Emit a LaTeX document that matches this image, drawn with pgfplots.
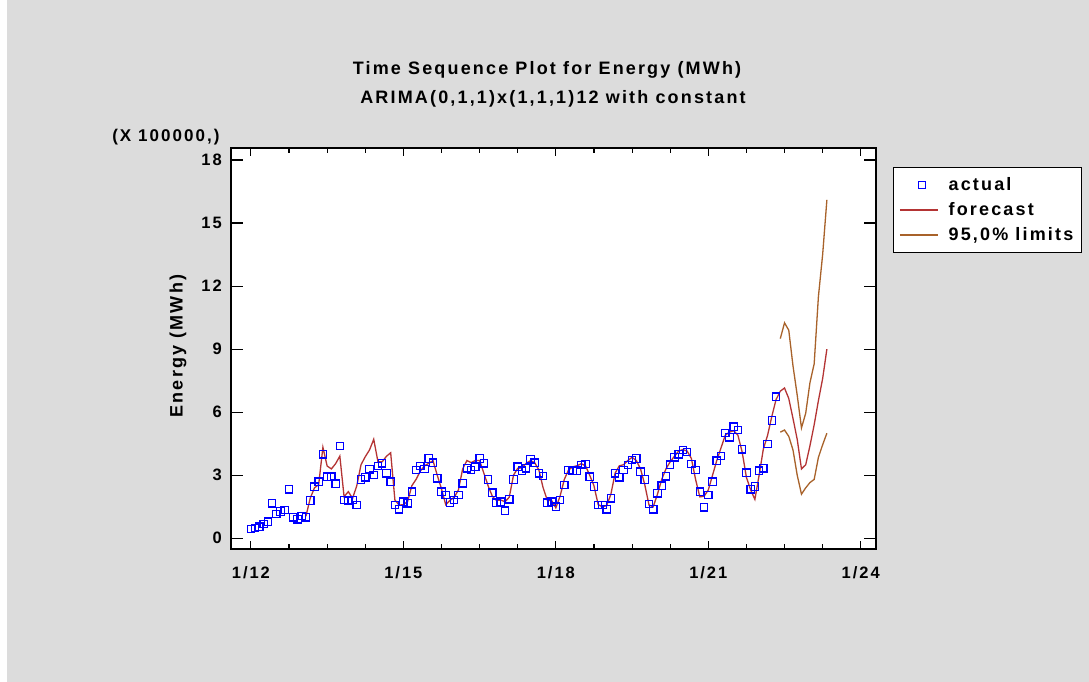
\documentclass[border=0pt]{standalone}
\usepackage{pgfplots}
\pgfplotsset{compat=1.18}
\usepackage{pgfplotstable}
\usepackage{fontspec}
\setmainfont{Liberation Sans}[LetterSpace=12]
\definecolor{bggray}{RGB}{220,220,220}
\definecolor{actblue}{RGB}{0,0,255}
\definecolor{fcred}{RGB}{180,52,52}
\definecolor{limbrown}{RGB}{168,98,42}

\pgfplotstableread{
m v
0 0.44
1 0.48
2 0.55
3 0.68
4 0.79
5 1.66
6 1.16
7 1.27
8 1.35
9 2.33
10 1.00
11 0.90
12 1.06
13 1.00
14 1.80
15 2.45
16 2.69
17 4.00
18 2.93
19 2.93
20 2.60
21 4.39
22 1.82
23 1.79
24 1.82
25 1.58
26 2.80
27 2.90
28 3.28
29 3.01
30 3.44
31 3.57
32 3.09
33 2.69
34 1.58
35 1.38
36 1.74
37 1.66
38 2.22
39 3.25
40 3.44
41 3.30
42 3.80
43 3.60
44 2.85
45 2.22
46 2.06
47 1.70
48 1.82
49 2.06
50 2.62
51 3.33
52 3.25
53 3.41
54 3.80
55 3.57
56 2.80
57 2.17
58 1.69
59 1.74
60 1.31
61 1.85
62 2.80
63 3.41
64 3.22
65 3.33
66 3.76
67 3.60
68 3.09
69 2.96
70 1.69
71 1.74
72 1.50
73 1.82
74 2.54
75 3.25
76 3.22
77 3.22
78 3.49
79 3.53
80 2.93
81 2.46
82 1.58
83 1.58
84 1.38
85 1.90
86 3.09
87 2.90
88 3.25
89 3.49
90 3.72
91 3.80
92 3.17
93 2.80
94 1.63
95 1.38
96 2.14
97 2.50
98 2.95
99 3.50
100 3.85
101 4.00
102 4.20
103 4.10
104 3.53
105 3.25
106 2.22
107 1.47
108 2.06
109 2.69
110 3.69
111 3.92
112 5.00
113 4.80
114 5.31
115 5.15
116 4.23
117 3.12
118 2.33
119 2.46
120 3.22
121 3.33
122 4.49
123 5.60
124 6.74
}\actualtab

\pgfplotstableread{
m v
13 1.05
14 1.90
15 2.40
16 2.55
17 4.33
18 3.44
19 3.30
20 3.55
21 3.91
22 1.98
23 2.22
24 1.90
25 2.50
26 3.50
27 3.88
28 4.20
29 4.71
30 3.64
31 3.64
32 3.90
33 4.07
34 1.82
35 1.58
36 1.60
37 1.75
38 2.50
39 2.80
40 3.20
41 3.45
42 3.57
43 3.69
44 3.00
45 2.35
46 1.60
47 1.80
48 1.95
49 2.30
50 3.30
51 3.70
52 3.60
53 3.70
54 3.70
55 3.10
56 2.50
57 2.00
58 1.80
59 1.82
60 1.74
61 1.95
62 3.00
63 3.33
64 3.35
65 3.57
66 3.69
67 3.60
68 3.25
69 2.40
70 1.80
71 1.80
72 1.45
73 2.00
74 2.80
75 3.25
76 3.40
77 3.45
78 3.55
79 3.45
80 3.00
81 2.50
82 1.60
83 1.50
84 1.55
85 2.10
86 3.10
87 3.45
88 3.50
89 3.70
90 3.85
91 3.70
92 3.30
93 2.55
94 1.58
95 1.50
96 2.10
97 2.80
98 3.30
99 3.64
100 3.90
101 4.15
102 4.22
103 4.15
104 3.80
105 2.80
106 1.97
107 2.00
108 2.30
109 3.00
110 3.70
111 4.30
112 4.90
113 5.05
114 5.12
115 4.90
116 4.10
117 2.90
118 2.30
119 1.85
120 3.00
121 4.25
122 4.90
123 5.80
124 6.60
125 7.00
126 7.15
127 6.65
128 5.70
129 4.70
130 3.30
131 3.50
132 4.40
133 5.40
134 6.55
135 7.60
136 9.00
}\fctab

\pgfplotstableread{
m v
125 9.50
126 10.25
127 9.90
128 8.20
129 6.80
130 5.25
131 5.95
132 7.40
133 8.30
134 11.50
135 13.50
136 16.10
}\uptab

\pgfplotstableread{
m v
125 5.05
126 5.15
127 4.85
128 4.20
129 3.00
130 2.10
131 2.40
132 2.65
133 2.80
134 3.85
135 4.45
136 5.00
}\lowtab

\begin{document}
\begin{tikzpicture}[x=1pt,y=1pt]
\fill[bggray] (0,0) rectangle (1089,682);
\fill[white] (0,0) rectangle (7,682);
\node[font=\bfseries\fontsize{18}{18}\selectfont] at (547,612) {Time Sequence Plot for Energy (MWh)};
\node[font=\bfseries\fontsize{18}{18}\selectfont] at (553,583) {ARIMA(0,1,1)x(1,1,1)12 with constant};
\node[anchor=east, font=\bfseries\fontsize{17}{17}\selectfont] at (223,545) {(X 100000,)};
\begin{axis}[
  at={(231pt,133pt)}, anchor=south west,
  scale only axis, width=645pt, height=401pt,
  xmin=-4.7, xmax=147.6, ymin=-0.51, ymax=18.57,
  axis background/.style={fill=white},
  axis line style={line width=1.4pt},
  xtick={0,36,72,108,144},
  xticklabels={1/12,1/15,1/18,1/21,1/24},
  minor xtick={9,18,27,45,54,63,81,90,99,117,126,135},
  ytick={0,3,6,9,12,15,18},
  tick align=inside,
  major tick length=8pt, minor tick length=5pt,
  ytick style={/pgfplots/major tick length=12pt},
  tick style={black, line width=1.1pt},
  /pgf/number format/assume math mode=true,
  ticklabel style={font=\bfseries\fontsize{16.5}{16.5}\selectfont},
  yticklabel style={inner sep=0pt, xshift=-9pt},
  xticklabel style={inner sep=0pt, yshift=-17pt},
  ylabel={Energy (MWh)},
  ylabel style={at={(axis description cs:-0.082,0.506)}, anchor=center, font=\bfseries\fontsize{18}{18}\selectfont},
  legend style={at={(axis description cs:1.026,0.952)}, anchor=north west,
     line width=1.1pt, fill=white,
     font=\bfseries\fontsize{18}{18}\selectfont,
     inner xsep=6pt, inner ysep=8pt, row sep=6.5pt, cells={anchor=west}},
  legend image code/.code={\draw[mark repeat=2,mark phase=2,#1] plot coordinates {(0pt,0pt) (22pt,0pt) (38pt,0pt)};\path (46pt,0pt);},
]
\addplot[color=actblue, only marks, mark=square, mark size=3.7pt, line width=1.2pt] table[x=m,y=v] {\actualtab};
\addlegendentry{actual}
\addplot[color=fcred, line width=1.3pt, mark=none] table[x=m,y=v] {\fctab};
\addlegendentry{forecast}
\addplot[color=limbrown, line width=1.3pt, mark=none] table[x=m,y=v] {\uptab};
\addlegendentry{95,0\% limits}
\addplot[color=limbrown, line width=1.3pt, mark=none, forget plot] table[x=m,y=v] {\lowtab};
\end{axis}
\end{tikzpicture}
\end{document}
